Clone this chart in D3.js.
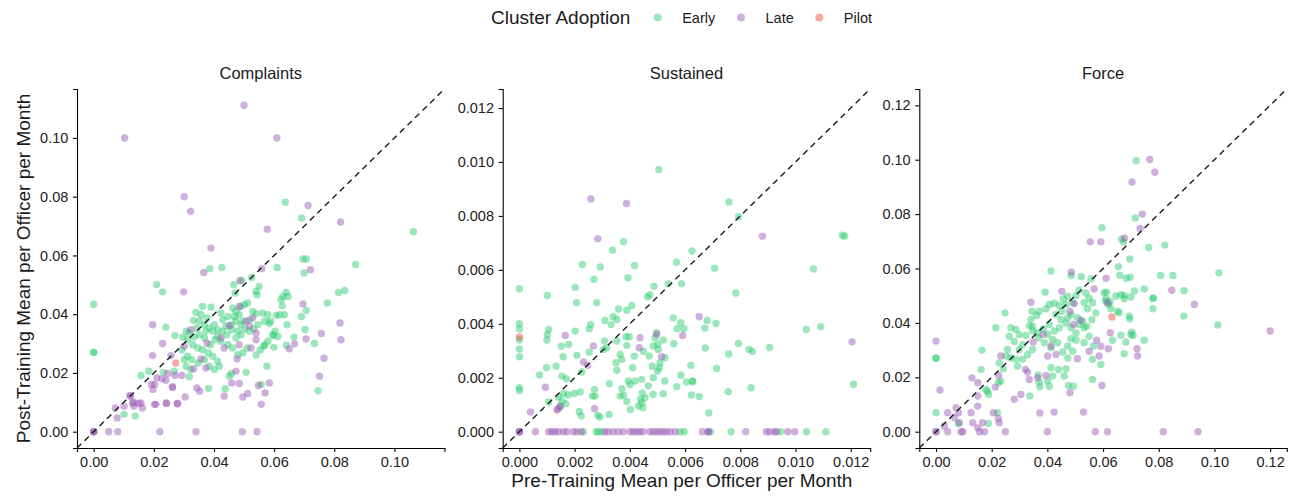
<!DOCTYPE html>
<html>
<head>
<meta charset="utf-8">
<script src="https://cdn.jsdelivr.net/npm/d3@7"></script>
<style>
  body { margin: 0; background: #fff; }
  svg { font-family: "Liberation Sans", Arial, sans-serif; }
  .axis path, .axis line { stroke: #000; stroke-width: 1.1; }
  .axis text { font-size: 14.5px; fill: #222; }
</style>
</head>
<body>
<div id="chart"></div>
<script>
// legend / facet labels
const clusters = ["Early", "Late", "Pilot"];
const clusterColors = ["#2ecc71", "#9b59b6", "#e74c3c"];
const facetNames = ["Complaints", "Sustained", "Force"];

// tick values per facet
const complaintsTicks = [0, 0.02, 0.04, 0.06, 0.08, 0.10];
const sustainedTicks = [0, 0.002, 0.004, 0.006, 0.008, 0.010, 0.012];
const forceTicks = [0, 0.02, 0.04, 0.06, 0.08, 0.10, 0.12];

// [pre, post] per officer per month
const complaintsEarly = [
  [0.0637,0.0781],[0.0692,0.0727],[0.1063,0.0681],
  [0.0696,0.0588],[0.0707,0.0588],[0.0871,0.0569],[0.0386,0.0555],[0.0426,0.0559],[0.0610,0.0559],[0.0700,0.0540],
  [0.0525,0.0525],[0.0492,0.0515],[0.0209,0.0501],[0.0229,0.0476],[0.0466,0.0500],[0.0550,0.0494],[0.0540,0.0477],
  [0.0543,0.0466],[0.0470,0.0472],[0.0640,0.0474],[0.0629,0.0460],[0.0646,0.0460],[0.0623,0.0449],[0.0814,0.0474],
  [0.0835,0.0481],[0.0777,0.0438],[0.0707,0.0413],[0.0691,0.0392],[0.0734,0.0300],[0.0746,0.0139],[0.0703,0.0348],
  [0.0666,0.0322],[0.0641,0.0294],[0.0643,0.0364],
  [0.0627,0.0429],[0.0634,0.0398],[0.0618,0.0398],[0.0607,0.0396],[0.0588,0.0376],[0.0584,0.0368],[0.0603,0.0342],
  [0.0597,0.0327],[0.0612,0.0324],[0.0599,0.0287],[0.0568,0.0296],[0.0576,0.0223],
  [0.0362,0.0426],[0.0390,0.0424],[0.0340,0.0406],[0.0357,0.0398],[0.0377,0.0387],[0.0332,0.0379],[0.0351,0.0376],
  [0.0368,0.0364],[0.0384,0.0353],[0.0401,0.0364],[0.0423,0.0404],[0.0429,0.0381],[0.0446,0.0392],[0.0462,0.0421],
  [0.0473,0.0409],[0.0468,0.0392],[0.0484,0.0398],[0.0490,0.0426],[0.0501,0.0432],[0.0512,0.0438],[0.0529,0.0409],
  [0.0540,0.0402],[0.0562,0.0404],[0.0579,0.0398],[0.0568,0.0376],[0.0546,0.0364],[0.0532,0.0350],[0.0518,0.0342],
  [0.0503,0.0350],[0.0490,0.0330],[0.0479,0.0342],[0.0459,0.0347],[0.0443,0.0330],[0.0429,0.0342],[0.0412,0.0325],
  [0.0403,0.0313],[0.0388,0.0296],[0.0368,0.0319],[0.0351,0.0330],[0.0334,0.0322],[0.0318,0.0336],[0.0312,0.0313],
  [0.0329,0.0296],[0.0346,0.0285],[0.0362,0.0279],[0.0381,0.0268],[0.0396,0.0257],[0.0412,0.0240],[0.0418,0.0223],
  [0.0401,0.0212],[0.0384,0.0223],[0.0368,0.0245],[0.0348,0.0234],[0.0326,0.0245],[0.0312,0.0257],[0.0301,0.0245],
  [0.0307,0.0223],[0.0323,0.0212],[0.0318,0.0187],[0.0457,0.0198],[0.0451,0.0189],[0.0479,0.0262],[0.0496,0.0268],
  [0.0510,0.0285],[0.0540,0.0261],[0.0554,0.0279],[0.0566,0.0291],[0.0579,0.0308],[0.0596,0.0330],[0.0446,0.0296],
  [0.0462,0.0285],[0.0473,0.0319],[0.0423,0.0308],[0.0440,0.0359],[0.0457,0.0364],[0.0473,0.0376],[0.0496,0.0376],
  [0.0518,0.0381],[0.0490,0.0364],[0.0412,0.0347],[0.0396,0.0342],[0.0373,0.0342],[0.0343,0.0353],[0.0308,0.0342],
  [0.0296,0.0322],[0.0270,0.0327],[0.0240,0.0356],[0.0268,0.0206],[0.0293,0.0279],[0.0232,0.0202],[0.0183,0.0206],
  [0.0157,0.0191],[0.0507,0.0202],[0.0382,0.0147],[0.0437,0.0146],[0.0557,0.0161],[0.0138,0.0053],[0.0101,0.0059],
  [0.0000,0.0434],[0.0000,0.0270],[0.0000,0.0270]
];
const complaintsLate = [
  [0.0500,0.1111],[0.0103,0.1000],[0.0609,0.1000],[0.0301,0.0800],[0.0322,0.0750],[0.0713,0.0770],[0.0821,0.0714],
  [0.0577,0.0689],[0.0390,0.0625],
  [0.0366,0.0542],[0.0559,0.0555],[0.0486,0.0514],[0.0721,0.0551],[0.0299,0.0476],[0.0696,0.0435],[0.0819,0.0370],
  [0.0822,0.0313],[0.0757,0.0334],[0.0706,0.0316],[0.0668,0.0299],[0.0650,0.0282],[0.0766,0.0250],[0.0751,0.0189],
  [0.0196,0.0364],[0.0229,0.0300],[0.0196,0.0259],[0.0323,0.0347],[0.0301,0.0291],[0.0257,0.0259],[0.0332,0.0214],
  [0.0357,0.0248],[0.0373,0.0217],[0.0377,0.0302],[0.0423,0.0319],[0.0434,0.0285],[0.0451,0.0361],[0.0484,0.0296],
  [0.0477,0.0248],[0.0507,0.0376],[0.0529,0.0387],[0.0518,0.0359],[0.0540,0.0336],[0.0540,0.0313],[0.0523,0.0285],
  [0.0484,0.0426],[0.0473,0.0206],[0.0459,0.0166],[0.0484,0.0164],[0.0512,0.0130],[0.0496,0.0118],[0.0548,0.0157],
  [0.0584,0.0166],[0.0570,0.0132],[0.0557,0.0093],[0.0434,0.0121],[0.0343,0.0149],[0.0353,0.0138],[0.0304,0.0118],
  [0.0279,0.0096],[0.0242,0.0096],[0.0207,0.0093],[0.0262,0.0153],[0.0262,0.0150],[0.0227,0.0180],[0.0240,0.0175],
  [0.0203,0.0161],[0.0197,0.0144],[0.0192,0.0161],[0.0293,0.0191],[0.0270,0.0191],[0.0246,0.0198],[0.0210,0.0184],
  [0.0101,0.0087],[0.0123,0.0121],[0.0129,0.0098],[0.0134,0.0087],[0.0157,0.0098],[0.0162,0.0081],
  [0.0120,0.0123],[0.0133,0.0100],[0.0150,0.0096],[0.0202,0.0093],[0.0241,0.0098],[0.0278,0.0095],
  [0.0072,0.0081],[0.0078,0.0047],[0.0050,0],[0.0080,0],[0,0],[0,0],[0,0],
  [0.0220,0],[0.0340,0],[0.0494,0],[0.0543,0]
];
const complaintsPilot = [[0.0273,0.0234]];

const sustainedEarly = [
  [0.00505,0.00972],[0.00759,0.00852],[0.00794,0.00797],[0.01170,0.00728],[0.01178,0.00725],[0.00377,0.00704],
  [0.00337,0.00673],[0.00625,0.00670],[0.00569,0.00628],[0.00228,0.00620],[0.00293,0.00611],[0.00417,0.00616],
  [0.00707,0.00606],[0.01065,0.00603],[0.00270,0.00565],[0.00393,0.00571],
  [0,0.00530],[0.00101,0.00505],[0.00202,0.00535],[0.00207,0.00478],[0.00280,0.00478],[0.00487,0.00539],
  [0.00539,0.00548],[0.00587,0.00549],[0.00473,0.00508],[0.00464,0.00500],[0.00407,0.00468],[0.00389,0.00450],
  [0.00359,0.00455],[0.00339,0.00426],[0.00353,0.00416],[0.00332,0.00397],[0.00310,0.00412],[0.00258,0.00397],
  [0.00253,0.00382],[0.00202,0.00373],[0.00106,0.00379],[0.00101,0.00360],[0.00100,0.00340],[0,0.00400],
  [0,0.00381],[0,0.00340],[0,0.00307],[0,0.00278],[0,0.00163],[0,0.00153],
  [0.00178,0.00323],[0.00152,0.00317],[0.00158,0.00278],[0.00133,0.00243],[0.00098,0.00237],[0.00073,0.00210],
  [0.00154,0.00206],[0.00170,0.00196],[0.00208,0.00283],[0.00253,0.00295],[0.00226,0.00221],[0.00308,0.00336],
  [0.00304,0.00305],[0.00316,0.00311],[0.00353,0.00336],[0.00365,0.00286],[0.00371,0.00268],[0.00350,0.00256],
  [0.00353,0.00228],[0.00386,0.00352],[0.00398,0.00352],[0.00389,0.00320],[0.00416,0.00280],[0.00410,0.00237],
  [0.00497,0.00367],[0.00491,0.00348],[0.00521,0.00340],[0.00501,0.00324],[0.00485,0.00318],[0.00503,0.00305],
  [0.00470,0.00281],[0.00527,0.00274],[0.00509,0.00256],[0.00507,0.00237],[0.00481,0.00243],[0.00500,0.00225],
  [0.00449,0.00298],[0.00557,0.00422],[0.00584,0.00404],[0.00596,0.00382],[0.00571,0.00382],[0.00559,0.00326],
  [0.00621,0.00246],[0.00585,0.00209],[0.00605,0.00184],[0.00627,0.00188],[0.00570,0.00167],[0.00623,0.00136],
  [0.00527,0.00188],[0.00485,0.00200],[0.00443,0.00194],[0.00419,0.00188],[0.00395,0.00188],[0.00401,0.00175],
  [0.00371,0.00159],[0.00365,0.00132],[0.00377,0.00135],[0.00389,0.00112],[0.00402,0.00082],[0.00445,0.00144],
  [0.00455,0.00126],[0.00443,0.00107],[0.00447,0.00089],[0.00439,0.00120],[0.00431,0.00095],[0.00467,0.00170],
  [0.00484,0.00138],[0.00521,0.00141],[0.00326,0.00178],[0.00272,0.00157],[0.00265,0.00132],[0.00274,0.00132],
  [0.00220,0.00147],[0.00199,0.00142],[0.00176,0.00136],[0.00160,0.00141],[0.00142,0.00128],[0.00154,0.00114],
  [0.00168,0.00104],[0.00148,0.00095],[0.00217,0.00075],[0.00224,0.00058],[0.00284,0.00060],[0.00292,0.00054],
  [0.00325,0.00064],[0.00106,0.00110],
  [0.00784,0.00514],[0.00680,0.00412],[0.00672,0.00384],[0.00712,0.00401],[0.01039,0.00379],[0.01091,0.00389],
  [0.00673,0.00310],[0.00793,0.00327],[0.00832,0.00305],[0.00844,0.00297],[0.00906,0.00312],[0.00758,0.00288],
  [0.00714,0.00234],[0.00627,0.00185],[0.00651,0.00130],[0.00756,0.00148],[0.00839,0.00163],[0.01210,0.00176],
  [0.00686,0.00069],
  [0.00232,0],[0.00278,0],[0.00286,0],[0.00298,0],[0.00582,0],[0.00597,0],[0.00692,0],[0.00767,0],[0.00946,0],
  [0.01040,0],[0.01110,0]
];
const sustainedLate = [
  [0.00259,0.00863],[0.00388,0.00846],[0.00880,0.00725],[0.00284,0.00715],
  [0.00166,0.00357],[0.00094,0.00165],[0.00268,0.00318],[0.00232,0.00258],[0.00247,0.00246],[0.00437,0.00348],
  [0.00434,0.00311],[0.00497,0.00361],[0.00515,0.00278],[0.00591,0.00357],[0.00140,0.00085],[0.00136,0.00080],
  [0.00148,0.00093],[0.00272,0.00085],[0.00040,0.00073],[0.00651,0.00426],[0.01205,0.00333],
  [0,0],[0,0],[0,0],[0.00058,0],[0.00106,0],[0.00118,0],[0.00130,0],[0.00142,0],[0.00160,0],[0.00172,0],
  [0.00196,0],[0.00208,0],[0.00224,0],[0.00310,0],[0.00322,0],[0.00340,0],[0.00358,0],[0.00376,0],[0.00400,0],
  [0.00412,0],[0.00424,0],[0.00436,0],[0.00448,0],[0.00472,0],[0.00484,0],[0.00496,0],[0.00508,0],[0.00520,0],
  [0.00532,0],[0.00546,0],[0.00564,0],[0.00663,0],[0.00684,0],[0.00684,0],[0.00820,0],[0.00894,0],[0.00906,0],
  [0.00924,0],[0.00931,0],[0.00972,0],[0.00997,0]
];
const sustainedPilot = [[0,0.00351]];

const forceEarly = [
  [0.0719,0.0996],[0.0716,0.0786],[0.0596,0.0750],[0.0667,0.0708],[0.0674,0.0698],[0.0764,0.0677],[0.0822,0.0686],
  [0.0696,0.0635],[0.0655,0.0607],[0.0413,0.0591],[0.0485,0.0574],[0.0522,0.0570],[0.0660,0.0575],[0.0698,0.0568],
  [0.0683,0.0564],[0.0557,0.0562],[0.0807,0.0574],[0.0851,0.0574],[0.1016,0.0584],
  [0.0604,0.0511],[0.0610,0.0480],[0.0392,0.0513],[0.0473,0.0498],[0.0457,0.0489],[0.0467,0.0468],[0.0491,0.0474],
  [0.0503,0.0501],[0.0514,0.0520],[0.0538,0.0510],[0.0550,0.0491],[0.0562,0.0474],[0.0532,0.0474],[0.0544,0.0452],
  [0.0574,0.0437],[0.0560,0.0412],[0.0541,0.0388],[0.0526,0.0406],[0.0345,0.0443],[0.0248,0.0437],[0.0215,0.0382],
  [0.0165,0.0300],
  [0.0395,0.0452],[0.0407,0.0468],[0.0425,0.0472],[0.0443,0.0464],[0.0452,0.0443],[0.0431,0.0431],[0.0449,0.0412],
  [0.0467,0.0400],[0.0485,0.0382],[0.0503,0.0363],[0.0514,0.0394],[0.0532,0.0382],[0.0508,0.0419],[0.0485,0.0431],
  [0.0473,0.0419],
  [0.0566,0.0315],[0.0562,0.0266],[0.0592,0.0247],[0.0550,0.0351],[0.0532,0.0327],[0.0503,0.0337],[0.0485,0.0342],
  [0.0473,0.0315],[0.0491,0.0296],[0.0473,0.0271],[0.0455,0.0293],
  [0.0437,0.0327],[0.0419,0.0339],[0.0413,0.0309],[0.0443,0.0382],[0.0425,0.0370],[0.0407,0.0394],[0.0385,0.0378],
  [0.0365,0.0364],[0.0347,0.0370],[0.0368,0.0345],[0.0389,0.0327],[0.0401,0.0358],
  [0.0347,0.0302],[0.0329,0.0284],[0.0311,0.0266],[0.0293,0.0241],[0.0287,0.0266],[0.0299,0.0302],[0.0311,0.0320],
  [0.0281,0.0332],[0.0263,0.0351],[0.0299,0.0357],[0.0287,0.0376],[0.0269,0.0382],[0.0323,0.0354],[0.0335,0.0390],
  [0.0347,0.0387],[0.0341,0.0413],[0.0361,0.0427],[0.0371,0.0443],
  [0.0257,0.0302],[0.0251,0.0278],[0.0269,0.0272],[0.0227,0.0253],[0.0242,0.0231],[0.0233,0.0186],[0.0224,0.0180],
  [0.0185,0.0149],[0.0189,0.0137],[0.0179,0.0155],[0.0162,0.0229],
  [0.0367,0.0209],[0.0371,0.0182],[0.0401,0.0186],[0.0373,0.0165],[0.0407,0.0167],[0.0413,0.0235],[0.0419,0.0205],
  [0.0440,0.0229],[0.0467,0.0231],[0.0461,0.0205],[0.0475,0.0170],[0.0493,0.0167],[0.0562,0.0192],[0.0337,0.0131],
  [0,0.0270],[0,0.0270],[0,0.0070],[0.0080,0.0030],[0.0188,0.0030],[0.0221,0.0070],
  [0.0713,0.0517],[0.0748,0.0525],[0.0780,0.0491],[0.0780,0.0491],[0.0779,0.0452],[0.0613,0.0513],[0.0610,0.0489],
  [0.0620,0.0468],[0.0628,0.0452],[0.0646,0.0498],[0.0664,0.0504],[0.0676,0.0501],[0.0700,0.0495],[0.0676,0.0489],
  [0.0652,0.0443],[0.0658,0.0437],[0.0694,0.0425],[0.0696,0.0415],[0.0625,0.0480],
  [0.0891,0.0518],[0.0890,0.0425],[0.1012,0.0392],
  [0.0664,0.0355],[0.0700,0.0357],[0.0708,0.0354],[0.0703,0.0366],[0.0748,0.0336],[0.0682,0.0330],[0.0634,0.0336],
  [0.0676,0.0287]
];
const forceLate = [
  [0.0768,0.1001],[0.0786,0.0954],[0.0704,0.0918],[0.0741,0.0800],[0.0733,0.0747],[0.0554,0.0698],[0.0592,0.0698],
  [0.0677,0.0712],[0.0486,0.0587],[0.0611,0.0564],
  [0.0568,0.0525],[0.0616,0.0474],[0.0452,0.0516],[0.0497,0.0471],[0.0341,0.0476],[0.0481,0.0443],[0.0520,0.0410],
  [0.0494,0.0394],[0.0577,0.0336],[0.0592,0.0314],[0.0550,0.0296],[0.0586,0.0278],[0.0508,0.0268],[0.0596,0.0170],
  [0.0385,0.0357],[0.0349,0.0330],[0.0413,0.0315],[0.0431,0.0284],[0.0401,0.0278],[0.0395,0.0207],[0.0365,0.0198],
  [0.0335,0.0192],[0.0321,0.0229],[0.0329,0.0219],
  [0.0225,0.0207],[0.0233,0.0278],[0.0213,0.0164],[0.0150,0.0180],[0.0129,0.0198],[0.0150,0.0131],[0.0014,0.0153],
  [0.0305,0.0137],[0.0281,0.0119],[0.0481,0.0143],
  [0.0373,0.0069],[0.0424,0.0072],[0.0530,0.0072],
  [0.0249,0],[0.0400,0],[0.0572,0],[0.0616,0],
  [0,0.0333],[0,0],[0,0],
  [0.0042,0.0070],[0.0072,0.0088],[0.0081,0.0070],[0.0066,0.0051],[0.0084,0.0033],[0.0030,0.0021],[0.0042,0],
  [0.0096,0],[0.0090,0],[0.0126,0.0070],[0.0150,0.0094],[0.0132,0.0033],[0.0150,0.0014],[0.0167,0.0033],[0.0156,0],
  [0.0174,0],[0.0206,0.0070],[0.0224,0.0049],[0.0227,0.0033],
  [0.0847,0.0520],[0.0928,0.0468],[0.1200,0.0370],[0.0626,0.0364],[0.0722,0.0305],[0.0724,0.0278],[0.0619,0.0305],
  [0.0816,0],[0.0941,0]
];
const forcePilot = [[0.0632,0.0422]];

// layout
const W = 1296, H = 496;
const panelLeft = [77, 502.7, 919.3];
const panelW = 367.5;
const panelTop = 89, panelH = 359;

const facets = [
  { name: facetNames[0], series: [complaintsEarly, complaintsLate, complaintsPilot], ticks: complaintsTicks, fmt: d3.format(".2f") },
  { name: facetNames[1], series: [sustainedEarly, sustainedLate, sustainedPilot], ticks: sustainedTicks, fmt: d3.format(".3f") },
  { name: facetNames[2], series: [forceEarly, forceLate, forcePilot], ticks: forceTicks, fmt: d3.format(".2f") }
];

const svg = d3.select("#chart").append("svg")
  .attr("width", W)
  .attr("height", H);

facets.forEach((f, i) => {
  // equal limits on both axes, 5% expansion like ggplot
  const lim = d3.max(f.series.flat(), d => Math.max(d[0], d[1]));
  const pad = lim * 0.05;

  const x = d3.scaleLinear().domain([-pad, lim + pad]).range([0, panelW]);
  const y = d3.scaleLinear().domain([-pad, lim + pad]).range([panelH, 0]);

  const g = svg.append("g")
    .attr("transform", "translate(" + panelLeft[i] + "," + panelTop + ")");

  g.append("text")
    .attr("x", panelW / 2)
    .attr("y", -10)
    .attr("text-anchor", "middle")
    .style("font-size", "16.5px")
    .style("fill", "#1a1a1a")
    .text(f.name);

  g.append("g")
    .attr("class", "axis")
    .attr("transform", "translate(0," + panelH + ")")
    .call(d3.axisBottom(x).tickValues(f.ticks).tickFormat(f.fmt).tickSizeOuter(0).tickSize(4).tickPadding(5));

  g.append("g")
    .attr("class", "axis")
    .call(d3.axisLeft(y).tickValues(f.ticks).tickFormat(f.fmt).tickSizeOuter(0).tickSize(4).tickPadding(4.7));

  f.series.forEach((pts, s) => {
    g.append("g").selectAll("circle")
      .data(pts)
      .enter().append("circle")
        .attr("cx", d => x(d[0]))
        .attr("cy", d => y(d[1]))
        .attr("r", 3.7)
        .attr("fill", clusterColors[s])
        .attr("fill-opacity", 0.48);
  });

  // y = x reference line
  const dom = x.domain();
  g.append("line")
    .attr("x1", x(dom[0])).attr("y1", y(dom[0]))
    .attr("x2", x(dom[1])).attr("y2", y(dom[1]))
    .attr("stroke", "#1a1a1a")
    .attr("stroke-width", 1.4)
    .attr("stroke-dasharray", "6,4.5");
});

// axis titles
svg.append("text")
  .attr("x", (panelLeft[0] + panelLeft[2] + panelW) / 2)
  .attr("y", 487)
  .attr("text-anchor", "middle")
  .style("font-size", "19px")
  .style("fill", "#1a1a1a")
  .text("Pre-Training Mean per Officer per Month");

svg.append("text")
  .attr("transform", "translate(30," + (panelTop + panelH / 2) + ") rotate(-90)")
  .attr("text-anchor", "middle")
  .style("font-size", "19px")
  .style("fill", "#1a1a1a")
  .text("Post-Training Mean per Officer per Month");

// legend
const legend = svg.append("g");
legend.append("text")
  .attr("x", 491).attr("y", 24)
  .style("font-size", "19px")
  .style("fill", "#1a1a1a")
  .text("Cluster Adoption");

const legendX = [657.7, 741, 819.3];
clusters.forEach((c, i) => {
  legend.append("circle")
    .attr("cx", legendX[i]).attr("cy", 17.5)
    .attr("r", 4)
    .attr("fill", clusterColors[i])
    .attr("fill-opacity", 0.48);
  legend.append("text")
    .attr("x", legendX[i] + 24.5).attr("y", 23)
    .style("font-size", "14.5px")
    .style("fill", "#1a1a1a")
    .text(c);
});
</script>
</body>
</html>
